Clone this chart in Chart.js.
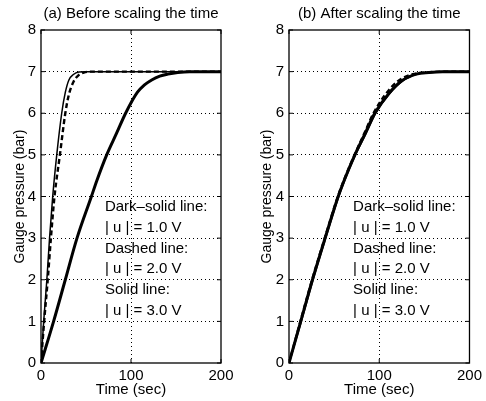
<!DOCTYPE html>
<html>
<head>
<meta charset="utf-8">
<script src="https://cdn.jsdelivr.net/npm/chart.js@4.4.1/dist/chart.umd.min.js"></script>
<style>
  html, body { margin: 0; padding: 0; background: #fff; }
  #wrap { position: relative; width: 486px; height: 401px; }
  .pane { position: absolute; top: 0; width: 243px; height: 401px; }
  #left { left: 0; }
  #right { left: 243px; }
</style>
</head>
<body>
<div id="wrap">
  <div class="pane" id="left"><canvas id="chartA"></canvas></div>
  <div class="pane" id="right"><canvas id="chartB"></canvas></div>
</div>
<script>
// (a) before scaling the time
const timeA1 = [0, 14, 27, 40, 56, 62, 73, 84, 94, 107, 115, 123, 132, 141, 152, 165, 200];
const pressA1 = [0, 1, 2, 3, 4, 4.38, 5, 5.52, 6, 6.5, 6.68, 6.8, 6.89, 6.94, 6.98, 7.0, 7.0];
const timeA2 = [0, 3.5, 7.5, 11, 15, 21, 27, 31, 36, 41, 48, 56, 200];
const pressA2 = [0, 1, 2, 3, 4, 5, 6, 6.45, 6.75, 6.9, 6.98, 7.0, 7.0];
const timeA3 = [0, 3, 6.5, 9.5, 13, 17.5, 23, 27, 31, 36, 42, 50, 200];
const pressA3 = [0, 1, 2, 3, 4, 5, 6, 6.5, 6.8, 6.93, 6.99, 7.0, 7.0];

// (b) after scaling the time
const timeB1 = [0, 13, 26, 40, 54.5, 61, 73, 84, 95, 110, 125, 141, 155, 170, 200];
const pressB1 = [0, 1, 2, 3, 4, 4.38, 5, 5.5, 6, 6.46, 6.78, 6.94, 6.98, 7.0, 7.0];
const timeB2 = [0, 12.5, 25.5, 39.5, 54, 60.5, 72.5, 83, 93.5, 107, 121, 137, 152, 168, 200];
const pressB2 = [0, 1, 2, 3, 4, 4.38, 5, 5.5, 6, 6.46, 6.78, 6.94, 6.98, 7.0, 7.0];
const timeB3 = [0, 13.5, 26.5, 40.5, 55, 61.5, 73.5, 85, 96, 111, 126, 142, 157, 172, 200];
const pressB3 = [0, 1, 2, 3, 4, 4.38, 5, 5.5, 6, 6.46, 6.78, 6.94, 6.98, 7.0, 7.0];

const noteLines = ['Dark\u2013solid line:', '| u | = 1.0 V', 'Dashed line:', '| u | = 2.0 V', 'Solid line:', '| u | = 3.0 V'];
const noteX = 71;
const noteY = [3.75, 3.25, 2.75, 2.25, 1.75, 1.25];

const FONT = '"Liberation Sans", Arial, Helvetica, sans-serif';
Chart.defaults.font.family = FONT;
Chart.defaults.font.size = 15;
Chart.defaults.color = '#000';

function series(ts, ps, width, dash) {
    return {
        data: ts.map((t, i) => ({ x: t, y: ps[i] })),
        borderColor: '#000',
        borderWidth: width,
        borderDash: dash || [],
        pointRadius: 0,
        fill: false,
        cubicInterpolationMode: 'monotone'
    };
}

// box round the plot, inward ticks, and the text notes
const framePlugin = {
    id: 'frame',
    afterDatasetsDraw(chart) {
        const { ctx, chartArea: a, scales: { x, y } } = chart;
        ctx.save();
        ctx.strokeStyle = '#000';
        ctx.lineWidth = 1.3;
        ctx.strokeRect(a.left, a.top, a.right - a.left, a.bottom - a.top);
        ctx.lineWidth = 1;
        ctx.beginPath();
        x.ticks.forEach(t => {
            const px = x.getPixelForValue(t.value);
            ctx.moveTo(px, a.bottom); ctx.lineTo(px, a.bottom - 4);
            ctx.moveTo(px, a.top); ctx.lineTo(px, a.top + 4);
        });
        y.ticks.forEach(t => {
            const py = y.getPixelForValue(t.value);
            ctx.moveTo(a.left, py); ctx.lineTo(a.left + 4, py);
            ctx.moveTo(a.right, py); ctx.lineTo(a.right - 4, py);
        });
        ctx.stroke();
        ctx.font = '15px ' + FONT;
        ctx.fillStyle = '#000';
        ctx.textBaseline = 'middle';
        noteLines.forEach((s, i) => {
            ctx.fillText(s, x.getPixelForValue(noteX), y.getPixelForValue(noteY[i]));
        });
        ctx.restore();
    }
};

function makeChart(id, title, datasets, yWidth, padRight, yTitlePad) {
    return new Chart(document.getElementById(id), {
        type: 'line',
        data: { datasets: datasets },
        plugins: [framePlugin],
        options: {
            responsive: true,
            maintainAspectRatio: false,
            animation: false,
            layout: { padding: { left: 0, right: padRight, top: 0, bottom: 0 } },
            plugins: {
                legend: { display: false },
                tooltip: { enabled: false },
                title: {
                    display: true,
                    text: title,
                    fullSize: false,
                    font: { size: 15, weight: 'normal' },
                    color: '#000',
                    padding: { top: 5, bottom: 7 }
                }
            },
            scales: {
                x: {
                    type: 'linear',
                    min: 0, max: 200,
                    ticks: { stepSize: 100, padding: 4, color: '#000', font: { size: 15 } },
                    grid: {
                        drawTicks: false,
                        color: c => (c.tick && (c.tick.value === 0 || c.tick.value === 200)) ? 'rgba(0,0,0,0)' : '#000',
                        lineWidth: 1
                    },
                    border: { display: false, dash: [1, 3] },
                    title: { display: true, text: 'Time (sec)', color: '#000', font: { size: 15 }, padding: { top: 0, bottom: 2 } },
                    afterFit: s => { s.height = 38; }
                },
                y: {
                    min: 0, max: 8,
                    ticks: { stepSize: 1, padding: 5, color: '#000', font: { size: 15 } },
                    grid: {
                        drawTicks: false,
                        color: c => (c.tick && (c.tick.value === 0 || c.tick.value === 8)) ? 'rgba(0,0,0,0)' : '#000',
                        lineWidth: 1
                    },
                    border: { display: false, dash: [1, 3] },
                    title: { display: true, text: 'Gauge pressure (bar)', color: '#000', font: { size: 14 }, padding: { top: yTitlePad, bottom: 0 } },
                    afterFit: s => { s.width = yWidth; }
                }
            }
        }
    });
}

makeChart('chartA', '(a) Before scaling the time', [
    series(timeA1, pressA1, 3),
    series(timeA2, pressA2, 2.4, [5, 3]),
    series(timeA3, pressA3, 1.5)
], 41, 22, 11.6);

makeChart('chartB', '(b) After scaling the time', [
    series(timeB1, pressB1, 3),
    series(timeB3, pressB3, 1.8),
    series(timeB2, pressB2, 2.2, [5, 3])
], 46, 16, 16);
</script>
</body>
</html>
